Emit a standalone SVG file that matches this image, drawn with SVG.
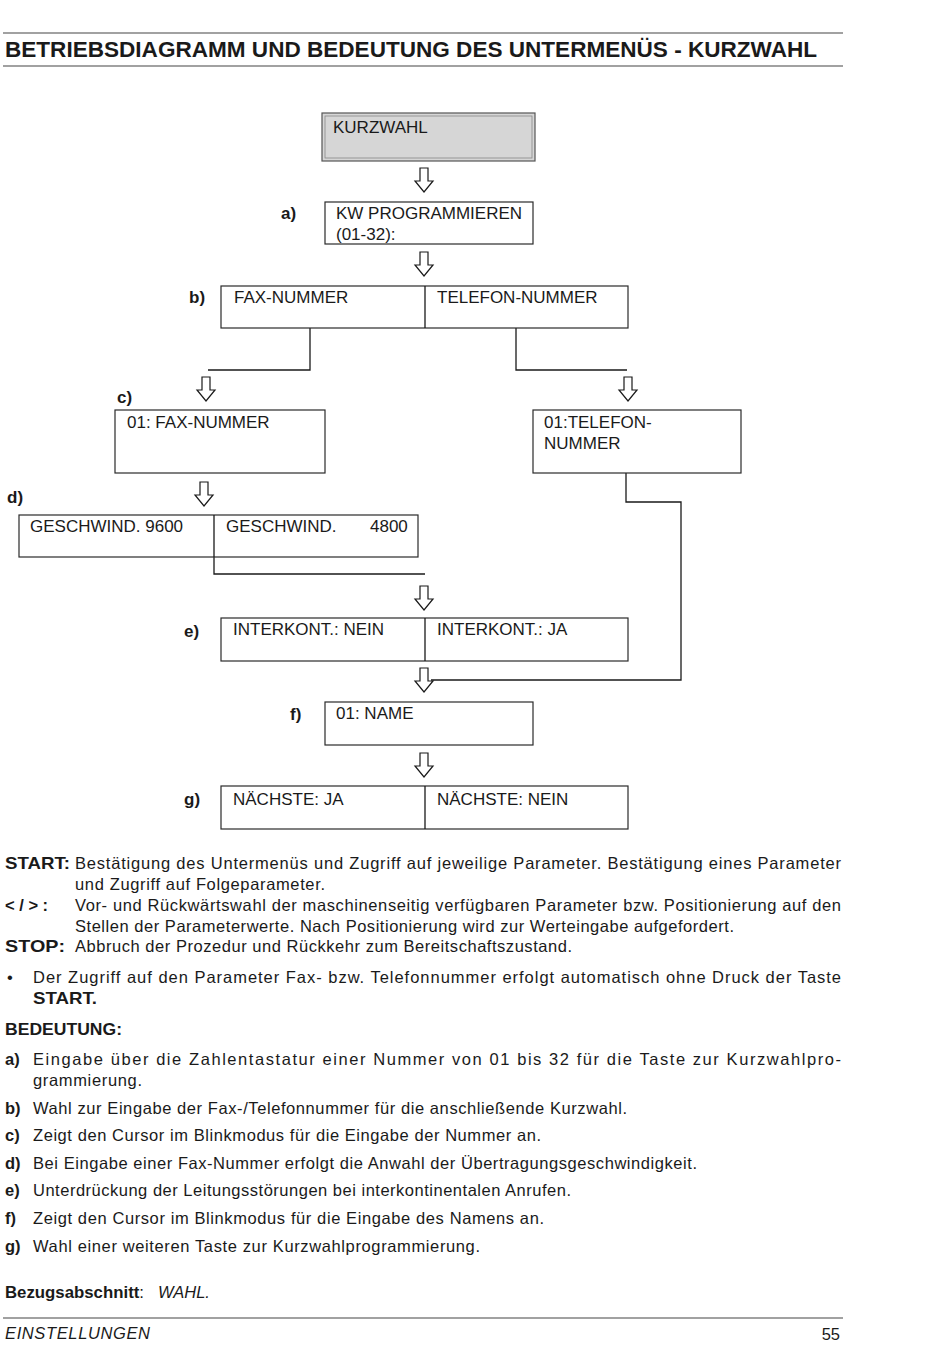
<svg xmlns="http://www.w3.org/2000/svg" width="950" height="1370" viewBox="0 0 950 1370">
<defs>
<style>
text{font-family:"Liberation Sans",Arial,sans-serif;fill:#1a1a1a}
.t{font-size:22px;font-weight:bold}
.n{font-size:17px}
.lb{font-size:17px;font-weight:bold}
.b{font-size:16.5px}
.bb{font-size:16.5px;font-weight:bold}
.it{font-style:italic}
.box{fill:#fff;stroke:#2a2a2a;stroke-width:1.2}
.rule{stroke:#444;stroke-width:1.2;fill:none}
.con{stroke:#1a1a1a;stroke-width:1.3;fill:none}
.arr{fill:#fff;stroke:#1a1a1a;stroke-width:1.2;stroke-linejoin:miter}
</style>
<polygon id="ar" class="arr" points="-4,0 4,0 4,13 9,13 0,24 -9,13 -4,13"/>
</defs>
<rect width="950" height="1370" fill="#fff"/>

<g id="header">
<line class="rule" x1="3" y1="33" x2="843" y2="33"/>
<text class="t" x="5" y="57" textLength="812" lengthAdjust="spacingAndGlyphs">BETRIEBSDIAGRAMM UND BEDEUTUNG DES UNTERMENÜS - KURZWAHL</text>
<line class="rule" x1="3" y1="66" x2="843" y2="66"/>
</g>

<g id="connectors">
<use href="#ar" x="424" y="168"/>
<use href="#ar" x="424" y="252"/>
<polyline class="con" points="310,328 310,370 208,370"/>
<polyline class="con" points="516,328 516,370 627,370"/>
<use href="#ar" x="206" y="377"/>
<use href="#ar" x="628" y="377"/>
<use href="#ar" x="204" y="482"/>
<polyline class="con" points="626,473 626,502 681,502 681,680 431,680"/>
<polyline class="con" points="214,557 214,574 425,574"/>
<use href="#ar" x="424" y="586"/>
<use href="#ar" x="424" y="668"/>
<use href="#ar" x="424" y="753"/>
</g>

<g id="node-kurzwahl">
<rect x="322" y="113" width="213" height="48" fill="#d6d6d6" stroke="#555" stroke-width="1.2"/>
<rect x="325" y="116" width="207" height="42" fill="none" stroke="#888" stroke-width="0.8"/>
<text class="n" x="333" y="133">KURZWAHL</text>
</g>

<g id="node-a">
<text class="lb" x="281" y="219">a)</text>
<rect class="box" x="325" y="202" width="208" height="42"/>
<text class="n" x="336" y="219">KW PROGRAMMIEREN</text>
<text class="n" x="336" y="240">(01-32):</text>
</g>

<g id="node-b">
<text class="lb" x="189" y="303">b)</text>
<rect class="box" x="221" y="286" width="407" height="42"/>
<line class="con" x1="425" y1="286" x2="425" y2="328"/>
<text class="n" x="234" y="303">FAX-NUMMER</text>
<text class="n" x="437" y="303">TELEFON-NUMMER</text>
</g>

<g id="node-c-fax">
<text class="lb" x="117" y="403">c)</text>
<rect class="box" x="115" y="410" width="210" height="63"/>
<text class="n" x="127" y="428">01: FAX-NUMMER</text>
</g>

<g id="node-c-tel">
<rect class="box" x="533" y="410" width="208" height="63"/>
<text class="n" x="544" y="428">01:TELEFON-</text>
<text class="n" x="544" y="449">NUMMER</text>
</g>

<g id="node-d">
<text class="lb" x="7" y="503">d)</text>
<rect class="box" x="19" y="515" width="399" height="42"/>
<line class="con" x1="214" y1="515" x2="214" y2="557"/>
<text class="n" x="30" y="532">GESCHWIND. 9600</text>
<text class="n" x="226" y="532">GESCHWIND.</text>
<text class="n" x="370" y="532">4800</text>
</g>

<g id="node-e">
<text class="lb" x="184" y="637">e)</text>
<rect class="box" x="221" y="618" width="407" height="43"/>
<line class="con" x1="425" y1="618" x2="425" y2="661"/>
<text class="n" x="233" y="635">INTERKONT.: NEIN</text>
<text class="n" x="437" y="635">INTERKONT.: JA</text>
</g>

<g id="node-f">
<text class="lb" x="290" y="720">f)</text>
<rect class="box" x="325" y="702" width="208" height="43"/>
<text class="n" x="336" y="719">01: NAME</text>
</g>

<g id="node-g">
<text class="lb" x="184" y="805">g)</text>
<rect class="box" x="221" y="786" width="407" height="43"/>
<line class="con" x1="425" y1="786" x2="425" y2="829"/>
<text class="n" x="233" y="805">NÄCHSTE: JA</text>
<text class="n" x="437" y="805">NÄCHSTE: NEIN</text>
</g>

<g id="legend">
<text class="bb" x="5" y="869" textLength="65" lengthAdjust="spacingAndGlyphs">START:</text>
<text class="b" x="75" y="869" textLength="766" lengthAdjust="spacing">Bestätigung des Untermenüs   und Zugriff auf jeweilige Parameter. Bestätigung eines Parameter</text>
<text class="b" x="75" y="890" textLength="250" lengthAdjust="spacing">und Zugriff auf Folgeparameter.</text>
<text class="bb" x="5" y="911">&lt; / &gt; :</text>
<text class="b" x="75" y="911" textLength="766" lengthAdjust="spacing">Vor- und Rückwärtswahl der maschinenseitig verfügbaren Parameter bzw. Positionierung auf den</text>
<text class="b" x="75" y="932" textLength="659" lengthAdjust="spacing">Stellen der Parameterwerte. Nach Positionierung wird zur Werteingabe aufgefordert.</text>
<text class="bb" x="5" y="952" textLength="60" lengthAdjust="spacingAndGlyphs">STOP:</text>
<text class="b" x="75" y="952" textLength="497" lengthAdjust="spacing">Abbruch der Prozedur und Rückkehr zum Bereitschaftszustand.</text>
<text class="b" x="7" y="983">•</text>
<text class="b" x="33" y="983" textLength="808" lengthAdjust="spacing">Der Zugriff auf den Parameter Fax- bzw. Telefonnummer erfolgt automatisch ohne Druck der Taste</text>
<text class="bb" x="33" y="1004" textLength="64" lengthAdjust="spacingAndGlyphs">START.</text>
</g>

<g id="meaning">
<text class="bb" x="5" y="1035" textLength="117" lengthAdjust="spacingAndGlyphs">BEDEUTUNG:</text>
<text class="bb" x="5" y="1065">a)</text>
<text class="b" x="33" y="1065" textLength="808" lengthAdjust="spacing">Eingabe über die Zahlentastatur einer Nummer von 01 bis 32 für die Taste zur Kurzwahlpro-</text>
<text class="b" x="33" y="1086" textLength="109" lengthAdjust="spacing">grammierung.</text>
<text class="bb" x="5" y="1114">b)</text>
<text class="b" x="33" y="1114" textLength="594" lengthAdjust="spacing">Wahl zur Eingabe der Fax-/Telefonnummer für die anschließende Kurzwahl.</text>
<text class="bb" x="5" y="1141">c)</text>
<text class="b" x="33" y="1141" textLength="508" lengthAdjust="spacing">Zeigt den Cursor im Blinkmodus für die Eingabe der Nummer an.</text>
<text class="bb" x="5" y="1169">d)</text>
<text class="b" x="33" y="1169" textLength="664" lengthAdjust="spacing">Bei Eingabe einer Fax-Nummer erfolgt die Anwahl der Übertragungsgeschwindigkeit.</text>
<text class="bb" x="5" y="1196">e)</text>
<text class="b" x="33" y="1196" textLength="538" lengthAdjust="spacing">Unterdrückung der Leitungsstörungen bei interkontinentalen Anrufen.</text>
<text class="bb" x="5" y="1224">f)</text>
<text class="b" x="33" y="1224" textLength="511" lengthAdjust="spacing">Zeigt den Cursor im Blinkmodus für die Eingabe des Namens an.</text>
<text class="bb" x="5" y="1252">g)</text>
<text class="b" x="33" y="1252" textLength="447" lengthAdjust="spacing">Wahl einer weiteren Taste zur Kurzwahlprogrammierung.</text>
<text class="bb" x="5" y="1298" textLength="139" lengthAdjust="spacingAndGlyphs">Bezugsabschnitt<tspan font-weight="normal">:</tspan></text>
<text class="b it" x="158" y="1298">WAHL.</text>
</g>

<g id="footer">
<line class="rule" x1="3" y1="1318" x2="843" y2="1318"/>
<text class="b it" x="5" y="1339" textLength="145" lengthAdjust="spacing">EINSTELLUNGEN</text>
<text class="b" x="840" y="1340" text-anchor="end">55</text>
</g>
</svg>
